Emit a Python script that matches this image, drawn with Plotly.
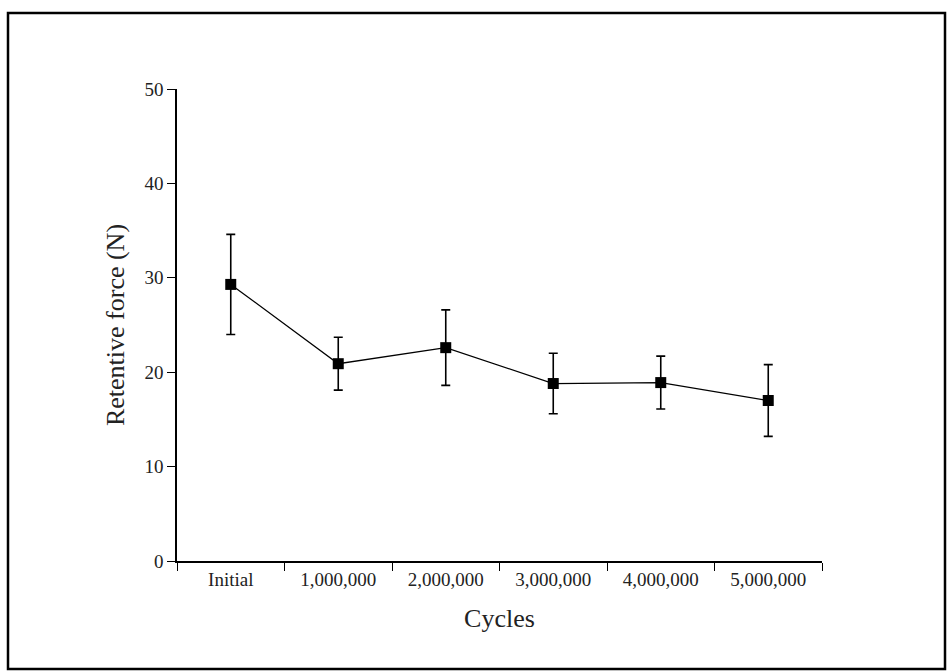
import plotly.graph_objects as go

categories = ["Initial", "1,000,000", "2,000,000", "3,000,000", "4,000,000", "5,000,000"]
means = [29.3, 20.9, 22.6, 18.8, 18.9, 17.0]
errors = [5.3, 2.8, 4.0, 3.2, 2.8, 3.8]
y_ticks = [0, 10, 20, 30, 40, 50]

FONT = "Liberation Serif, Times New Roman, serif"

fig = go.Figure()
fig.add_trace(go.Scatter(
    x=categories, y=means,
    mode="lines+markers",
    line=dict(color="black", width=1.3),
    marker=dict(symbol="square", size=11, color="black"),
    error_y=dict(type="data", array=errors, visible=True, color="black",
                 thickness=1.6, width=4.5),
    showlegend=False,
))

fig.update_layout(
    width=947, height=671,
    margin=dict(l=177, r=125, t=89, b=110, autoexpand=False),
    paper_bgcolor="white", plot_bgcolor="white",
    font=dict(family=FONT, color="#222", size=18),
    xaxis=dict(
        type="category", range=[-0.5, 5.5],
        showline=True, linecolor="black", linewidth=1.6,
        ticks="outside", tickson="boundaries", ticklen=8, tickcolor="black", tickwidth=1.4,
        showgrid=False, zeroline=False,
        tickfont=dict(family=FONT, size=19, color="#222"),
        title=dict(text="Cycles", font=dict(family=FONT, size=26, color="#222"), standoff=20),
        automargin=False,
    ),
    yaxis=dict(
        range=[0, 50], tickvals=y_ticks,
        showline=True, linecolor="black", linewidth=1.6,
        ticks="outside", ticklen=8, tickcolor="black", tickwidth=1.4,
        showgrid=False, zeroline=False,
        tickfont=dict(family=FONT, size=19, color="#222"),
        title=dict(text="Retentive force (N)", font=dict(family=FONT, size=26, color="#222"), standoff=12),
        automargin=False,
    ),
    shapes=[dict(
        type="rect", xref="paper", yref="paper",
        xsizemode="pixel", ysizemode="pixel", xanchor=0, yanchor=0,
        x0=8 - 177, x1=945 - 177, y0=-(669 - 561), y1=561 - 13,
        line=dict(color="black", width=2.5), fillcolor="rgba(0,0,0,0)", layer="below",
    )],
)

fig.write_html("out.html")
